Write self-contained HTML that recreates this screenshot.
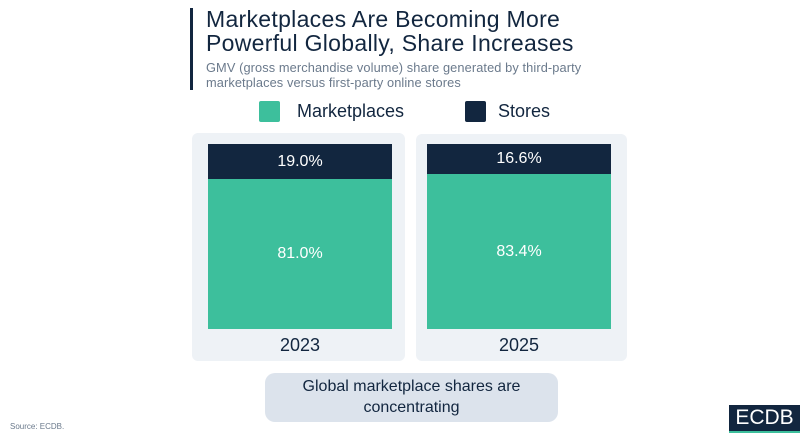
<!DOCTYPE html>
<html><head><meta charset="utf-8"><style>
*{margin:0;padding:0;box-sizing:border-box}
body{width:806px;height:440px;background:#fff;position:relative;overflow:hidden;font-family:"Liberation Sans","DejaVu Sans",sans-serif;color:#12263f}
.a{position:absolute}
.panel{background:#eef2f6;border-radius:6px}
.t{color:#fff;font-size:16px;text-align:center}
</style></head><body>
<div class="a" style="left:190px;top:8px;width:3px;height:82px;background:#12263f"></div>
<div class="a" style="left:206px;top:7px;font-size:23px;line-height:24px;color:#12263f;letter-spacing:0.3px">Marketplaces Are Becoming More<br>Powerful Globally, Share Increases</div>
<div class="a" style="left:206px;top:60px;font-size:12.8px;line-height:15px;color:#6b7a8c;letter-spacing:0.1px">GMV (gross merchandise volume) share generated by third-party<br>marketplaces versus first-party online stores</div>
<div class="a" style="left:259px;top:101px;width:21px;height:21px;background:#3dbf9c;border-radius:2px"></div>
<div class="a" style="left:297px;top:100px;font-size:18px;line-height:22px">Marketplaces</div>
<div class="a" style="left:465px;top:101px;width:21px;height:21px;background:#12263f;border-radius:2px"></div>
<div class="a" style="left:498px;top:100px;font-size:18px;line-height:22px">Stores</div>

<div class="a panel" style="left:192px;top:133px;width:213px;height:228px"></div>
<div class="a panel" style="left:416px;top:134px;width:211px;height:227px"></div>

<div class="a t" style="left:208px;top:144px;width:184px;height:35px;background:#12263f;line-height:35px">19.0%</div>
<div class="a t" style="left:208px;top:179px;width:184px;height:150px;background:#3dbf9c;line-height:150px">81.0%</div>
<div class="a t" style="left:427px;top:144px;width:184px;height:30px;background:#12263f;line-height:30px">16.6%</div>
<div class="a t" style="left:427px;top:174px;width:184px;height:155px;background:#3dbf9c;line-height:155px">83.4%</div>

<div class="a" style="left:208px;top:334px;width:184px;text-align:center;font-size:18px;line-height:22px">2023</div>
<div class="a" style="left:427px;top:334px;width:184px;text-align:center;font-size:18px;line-height:22px">2025</div>

<div class="a" style="left:265px;top:373px;width:293px;height:49px;background:#dce3ec;border-radius:10px;text-align:center;font-size:16px;line-height:21px;padding-top:3px">Global marketplace shares are<br>concentrating</div>

<div class="a" style="left:10px;top:422px;font-size:8px;color:#6b7a8c">Source: ECDB.</div>
<div class="a" style="left:729px;top:405px;width:71px;height:28px;background:#12263f;border-bottom:2px solid #3dbf9c;color:#fff;font-size:21px;line-height:26px;text-align:center">ECDB</div>
</body></html>
